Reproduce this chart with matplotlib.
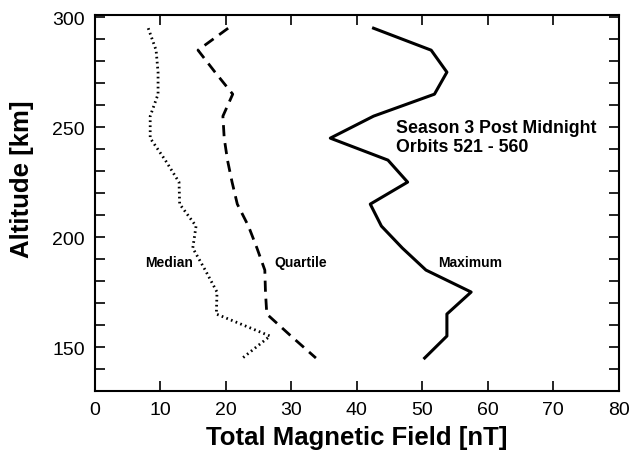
import matplotlib
matplotlib.use('Agg')
import matplotlib.pyplot as plt
from matplotlib.ticker import MultipleLocator

plt.rcParams['font.family'] = ['Liberation Sans', 'DejaVu Sans']

# altitude levels (km) and field values (nT)
altitude = [295, 285, 275, 265, 255, 245, 235, 225, 215, 205, 195, 185, 175, 165, 155, 145]
median = [8.2, 9.4, 9.7, 9.7, 8.5, 8.5, 10.8, 12.9, 13.0, 15.5, 15.0, 16.9, 18.7, 18.6, 26.8, 22.6]
quartile = [20.4, 15.8, 18.4, 21.1, 19.6, 19.8, 20.3, 21.0, 21.8, 23.5, 24.8, 26.0, 26.1, 26.3, 30.0, 33.8]
maximum = [42.6, 51.4, 53.8, 51.9, 42.6, 36.0, 44.8, 47.8, 42.1, 43.8, 47.0, 50.6, 57.5, 53.8, 53.8, 50.4]

x_ticks = [0, 10, 20, 30, 40, 50, 60, 70, 80]
y_ticks = [150, 200, 250, 300]

fig = plt.figure(figsize=(6.31, 4.60), dpi=100)
ax = fig.add_axes([0.1498, 0.1478, 0.8304, 0.8174])

ax.plot(median, altitude, color='black', lw=2.0, linestyle=(0, (0.6, 1.2)))
ax.plot(quartile, altitude, color='black', lw=2.0, linestyle=(0, (4, 2.5)))
ax.plot(maximum, altitude, color='black', lw=2.2)

ax.set_xlim(0, 80)
ax.set_ylim(130, 301)
ax.set_xticks(x_ticks)
ax.set_yticks(y_ticks)
ax.yaxis.set_minor_locator(MultipleLocator(10))
ax.tick_params(which='both', direction='in', length=7, width=1.2,
               top=True, right=True, labelsize=14, pad=7)
for s in ax.spines.values():
    s.set_linewidth(1.5)

ax.set_xlabel('Total Magnetic Field [nT]', fontsize=18.5, fontweight='bold', labelpad=5)
ax.set_ylabel('Altitude [km]', fontsize=18.5, fontweight='bold')
ax.yaxis.set_label_coords(-0.116, 0.566)

ax.text(46.0, 253.5, 'Season 3 Post Midnight\nOrbits 521 - 560', fontsize=12.8,
        fontweight='bold', va='top', ha='left', linespacing=1.1)
ax.text(7.7, 188.5, 'Median', fontsize=10, fontweight='bold', va='center')
ax.text(27.4, 188.5, 'Quartile', fontsize=10, fontweight='bold', va='center')
ax.text(52.4, 188.5, 'Maximum', fontsize=10, fontweight='bold', va='center')

fig.savefig('out.png', dpi=100)
